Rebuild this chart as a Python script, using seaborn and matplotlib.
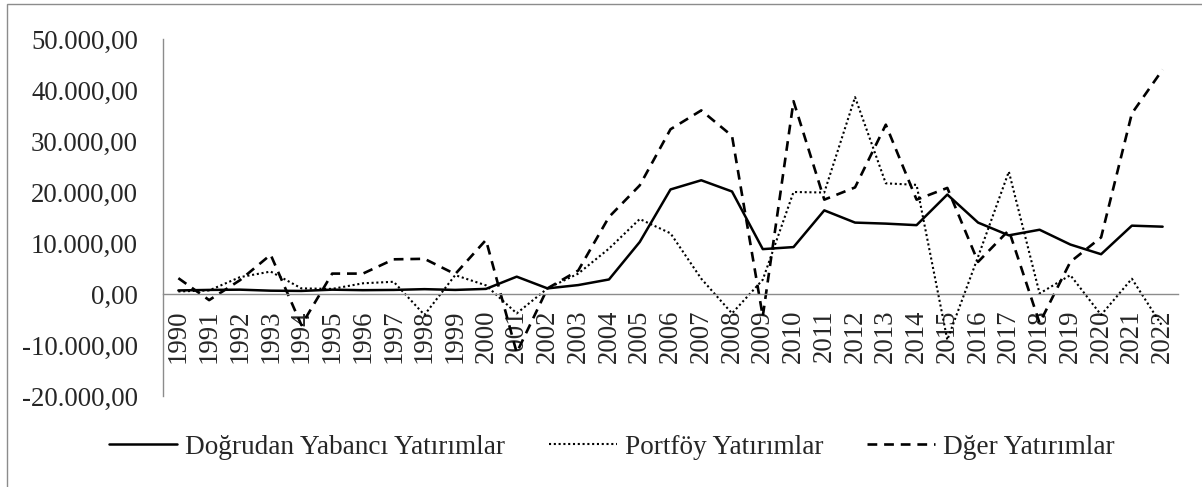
import numpy as np
import pandas as pd
import matplotlib
matplotlib.use('Agg')
import matplotlib.pyplot as plt
import matplotlib.ticker as mticker
from matplotlib.patches import Rectangle
import seaborn as sns

# values (million USD)
years = list(range(1990, 2023))
fdi = [700, 800, 850, 650, 600, 850, 750, 800, 950, 800, 1000,
       3400, 1100, 1750, 2850, 10200, 20500, 22300, 20100, 8800,
       9200, 16400, 14000, 13800, 13500, 19500, 14000, 11500, 12600,
       9700, 7800, 13400, 13200]
portfolio = [500, 700, 3300, 4400, 1100, 1000, 2100, 2400, -4100, 3700, 1700,
             -3800, 1100, 4000, 8900, 14700, 11900, 3000, -3800, 2800,
             20000, 19900, 38600, 21700, 21400, -9000, 7300, 24000, 100,
             3700, -4100, 3000, -6400]
other = [3100, -1200, 2700, 7700, -6100, 4000, 4000, 6800, 6900, 3900, 10600,
         -11500, 1100, 4600, 15100, 21300, 32300, 36000, 31000, -4400,
         37800, 18500, 20900, 33200, 18500, 20800, 6300, 12500, -5700,
         6300, 11100, 35400, 44000]
series_names = ['Doğrudan Yabancı Yatırımlar', 'Portföy Yatırımlar', 'Dğer Yatırımlar']

sns.set_style('white')
plt.rcParams['font.family'] = ['Liberation Serif', 'DejaVu Serif']
plt.rcParams['font.size'] = 19.3

fig = plt.figure(figsize=(12.02, 4.87), dpi=100)
ax = fig.add_axes([163 / 1202, 1 - 396 / 487, (1178 - 163) / 1202, (396 - 39) / 487])

styles = [
    dict(lw=1.8, linestyle='-'),
    dict(lw=1.5, linestyle=(0, (1, 1.3))),
    dict(lw=1.9, linestyle=(0, (3.7, 2.6))),
]
for name, vals, st in zip(series_names, [fdi, portfolio, other], styles):
    sns.lineplot(x=years, y=vals, ax=ax, color='black', label=name, **st)

# move the x axis to y = 0 before styling the ticks (this resets them)
for s in ['top', 'right']:
    ax.spines[s].set_visible(False)
ax.spines['bottom'].set_position(('data', 0))
for s in ['left', 'bottom']:
    ax.spines[s].set_color('#8c8c8c')
    ax.spines[s].set_linewidth(1.0)

ax.set_xlim(1989.5, 2022.5)
ax.set_ylim(-20000, 50000)
ax.set_xticks(years)
ax.set_xticklabels([str(y) for y in years])
ax.set_yticks(np.arange(-20000, 50001, 10000))


def tr_fmt(v, pos):
    s = f'{v:,.2f}'
    return s.replace(',', 'X').replace('.', ',').replace('X', '.')


ax.yaxis.set_major_formatter(mticker.FuncFormatter(tr_fmt))
ax.tick_params(axis='x', length=0, pad=11, labelsize=19.3, labelrotation=90)
ax.tick_params(axis='y', length=0, pad=18, labelsize=19.3)
ax.set_xlabel('')
ax.set_ylabel('')
ax.grid(False)

handles, labels = ax.get_legend_handles_labels()
ax.get_legend().remove()
fig.legend(handles, labels, loc='center', bbox_to_anchor=(612 / 1202, 1 - 447 / 487),
           ncol=3, frameon=False, handlelength=2.5, handletextpad=0.3,
           columnspacing=1.6, fontsize=19.6)

# outer border of the chart area (only top and left edges are visible)
fig.patches.append(Rectangle((7 / 1202, -0.5), 1.5, 1.5 - 4 / 487, transform=fig.transFigure,
                             fill=False, edgecolor='#8c8c8c', lw=1.0))

fig.savefig('out.png', dpi=100)
